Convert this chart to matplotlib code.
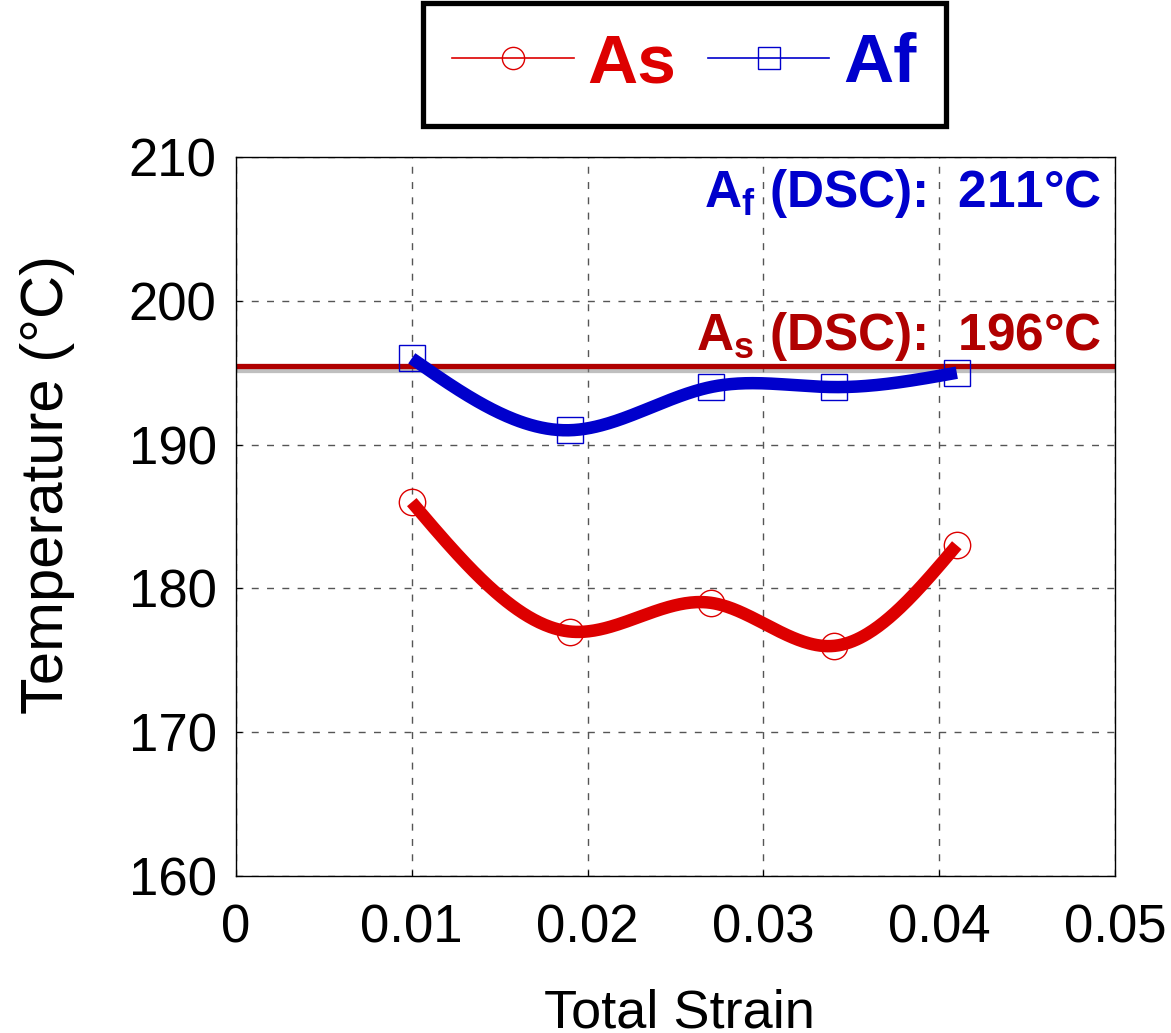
import numpy as np
import matplotlib
matplotlib.use('Agg')
import matplotlib.pyplot as plt
import matplotlib.patheffects as pe
from matplotlib.lines import Line2D

plt.rcParams['font.family'] = ['Liberation Sans', 'DejaVu Sans']
plt.rcParams['mathtext.fontset'] = 'custom'
plt.rcParams['mathtext.rm'] = 'Liberation Sans:bold'
plt.rcParams['mathtext.bf'] = 'Liberation Sans:bold'
plt.rcParams['mathtext.it'] = 'Liberation Sans:bold'

# data
strain = [0.010, 0.019, 0.027, 0.034, 0.041]
As = [186, 177, 179, 176, 183]
Af = [196, 191, 194, 194, 195]
As_dsc = 195.5
xticks = [0, 0.01, 0.02, 0.03, 0.04, 0.05]
xticklabels = ['0', '0.01', '0.02', '0.03', '0.04', '0.05']
yticks = [160, 170, 180, 190, 200, 210]


def natural_spline(x, y, n=300):
    # natural cubic spline through the points, for the smooth curve
    x = np.asarray(x, float)
    y = np.asarray(y, float)
    k = len(x)
    h = np.diff(x)
    A = np.zeros((k, k))
    b = np.zeros(k)
    A[0, 0] = A[-1, -1] = 1
    for i in range(1, k - 1):
        A[i, i - 1] = h[i - 1]
        A[i, i] = 2 * (h[i - 1] + h[i])
        A[i, i + 1] = h[i]
        b[i] = 6 * ((y[i + 1] - y[i]) / h[i] - (y[i] - y[i - 1]) / h[i - 1])
    M = np.linalg.solve(A, b)
    xs = np.linspace(x[0], x[-1], n)
    idx = np.clip(np.searchsorted(x, xs) - 1, 0, k - 2)
    x0, x1 = x[idx], x[idx + 1]
    hh = x1 - x0
    t0, t1 = x1 - xs, xs - x0
    ys = (M[idx] * t0**3 + M[idx + 1] * t1**3) / (6 * hh) \
        + (y[idx] / hh - M[idx] * hh / 6) * t0 \
        + (y[idx + 1] / hh - M[idx + 1] * hh / 6) * t1
    return xs, ys


red = '#DD0000'
blue = '#0000CC'
dark_red = '#B00000'

fig = plt.figure(figsize=(11.71, 10.33), dpi=100)
ax = fig.add_axes([0.2015, 0.152, 0.7507, 0.696])

ax.axhline(As_dsc, color=dark_red, lw=3.8, zorder=2,
           path_effects=[pe.SimpleLineShadow(offset=(0, -3), shadow_color='gray', alpha=0.5),
                         pe.Normal()])

xs, ys = natural_spline(strain, Af)
ax.plot(xs, ys, color=blue, lw=9, solid_capstyle='butt', zorder=3)
ax.plot(strain, Af, ls='none', marker='s', ms=19, mfc='none', mec=blue, mew=1.0, zorder=4)

xs, ys = natural_spline(strain, As)
ax.plot(xs, ys, color=red, lw=9, solid_capstyle='butt', zorder=3)
ax.plot(strain, As, ls='none', marker='o', ms=19, mfc='none', mec=red, mew=1.0, zorder=4)

ax.set_xlim(0, 0.05)
ax.set_ylim(160, 210)
ax.set_xticks(xticks)
ax.set_xticklabels(xticklabels)
ax.set_yticks(yticks)
ax.tick_params(labelsize=38, direction='in', length=4, width=0.8)
ax.tick_params(axis='x', pad=20)
ax.tick_params(axis='y', pad=14)
ax.grid(True, color='#555555', ls=(0, (5, 6)), lw=1.0)
for s in ax.spines.values():
    s.set_linewidth(1.0)
    s.set_color('black')

ax.set_xlabel('Total Strain', fontsize=39, va='top')
ax.xaxis.set_label_coords(0.505, -0.157)
ax.set_ylabel('Temperature (°C)', fontsize=43)
ax.yaxis.set_label_coords(-0.183, 0.545)

ax.text(0.985, 0.93, r'A$_{\rm f}$ (DSC):  211°C', transform=ax.transAxes,
        ha='right', va='baseline', fontsize=37, fontweight='bold', color=blue)
ax.text(0.985, 0.7316, r'A$_{\rm s}$ (DSC):  196°C', transform=ax.transAxes,
        ha='right', va='baseline', fontsize=37, fontweight='bold', color=dark_red)

handles = [Line2D([], [], color=red, lw=1.2, marker='o', ms=16, mfc='none', mec=red, mew=1.0),
           Line2D([], [], color=blue, lw=1.2, marker='s', ms=16, mfc='none', mec=blue, mew=1.0)]
leg = fig.legend(handles, ['As', 'Af'], loc='center', bbox_to_anchor=(0.5845, 0.9376),
                 ncol=2, prop={'weight': 'bold', 'size': 50},
                 handlelength=1.75, handletextpad=0.2, columnspacing=0.45,
                 borderpad=0.42, fancybox=False, framealpha=1)
leg.get_frame().set_edgecolor('black')
leg.get_frame().set_linewidth(3.8)
for t, c in zip(leg.get_texts(), [red, blue]):
    t.set_color(c)

fig.savefig('out.png', dpi=100)
